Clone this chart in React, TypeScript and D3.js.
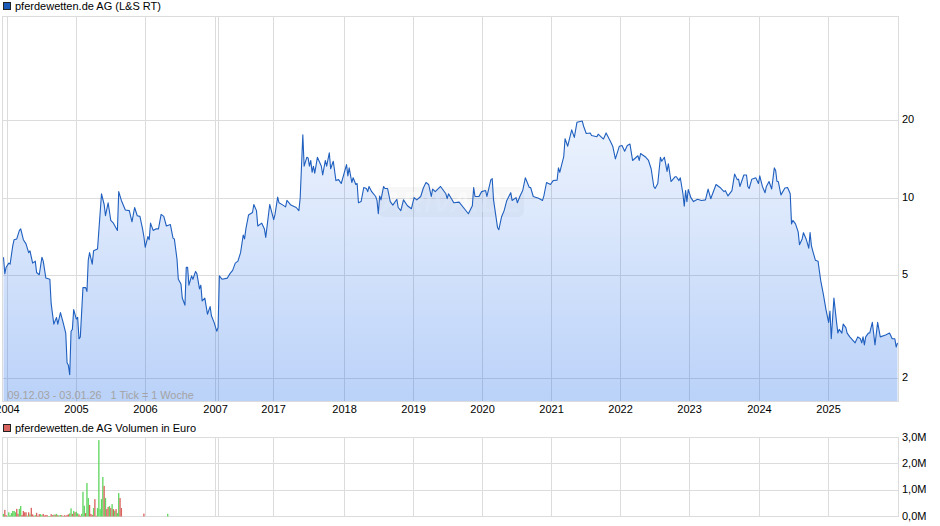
/**
 * pferdewetten.de AG weekly price chart (log scale) with a volume panel below.
 * Ticks are weeks since the first quote, so the time axis is not linear in years.
 */
import { useEffect, useRef } from 'react';
import * as d3 from 'd3';

const WIDTH = 940;
const HEIGHT = 526;

const title = 'pferdewetten.de AG (L&S RT)';
const volumeTitle = 'pferdewetten.de AG Volumen in Euro';
const rangeNote = '09.12.03 - 03.01.26   1 Tick = 1 Woche';
const watermark = 'ARIVA.DE';

const lastWeek = 675;

// year label, week of its gridline
const yearLabels = ['2004', '2005', '2006', '2007', '2017', '2018', '2019', '2020', '2021', '2022', '2023', '2024', '2025'];
const yearWeeks = [2.64, 54.7, 106.8, 159.7, 203.5, 257.1, 309.2, 361.3, 413.4, 465.5, 517.6, 570.4, 622.6];
const extraGridWeeks = [162];

const priceTicks = [2, 5, 10, 20];
const volumeTicks = [0, 1, 2, 3];

// [week, price]
const prices2004to2007: [number, number][] = [
  [0, 5.9], [1, 5.1], [2, 5.4], [4, 5.6], [5, 5.55], [7, 6.55], [8, 6.9], [10, 6.95], [12, 7.5], [13, 7.6],
  [15, 6.9], [17, 6.65], [19, 6.15], [20, 6.25], [22, 5.6], [24, 5.7], [25, 5.15], [27, 5.05], [29, 5.9], [30, 5.7],
  [32, 4.9], [35, 4.85], [36, 3.9], [38, 3.25], [40, 3.45], [41, 3.25], [43, 3.6], [45, 3.3], [47, 3.0], [48, 2.3],
  [49, 2.25], [50, 2.07], [51, 3.05], [52, 3.1], [53, 3.7], [55, 3.4], [56, 3.45], [57, 2.85], [58, 2.9], [60, 4.5],
  [62, 4.5], [63, 4.35], [64, 5.75], [65, 6.15], [67, 5.55], [68, 6.25], [71, 6.35], [74, 10.4], [76, 9.45], [77, 8.55],
  [79, 9.6], [81, 8.2], [83, 8.0], [86, 7.5], [87, 10.6], [89, 9.8], [92, 9.0], [95, 8.95], [97, 8.1], [99, 9.2],
  [101, 8.55], [103, 8.5], [105, 7.6], [106, 7.1], [107, 6.45], [109, 7.1], [110, 6.9], [111, 8.0], [113, 7.5], [115, 7.6],
  [117, 7.6], [119, 8.65], [121, 8.5], [123, 7.8], [126, 7.9], [128, 7.0], [129, 6.95], [131, 5.8], [132, 4.85], [134, 4.65],
  [135, 4.1], [137, 3.85], [138, 5.4], [139, 5.4], [140, 4.6], [142, 5.0], [143, 4.85], [145, 5.2], [146, 5.1], [148, 4.45],
  [149, 4.6], [150, 4.0], [152, 4.1], [154, 3.55], [156, 3.8], [157, 3.5], [159, 3.3], [161, 3.05], [162, 3.15],
];

const prices2017to2020: [number, number][] = [
  [163, 5.0], [165, 4.85], [169, 4.9], [171, 5.1], [173, 5.25], [175, 5.6], [177, 5.7], [179, 6.15], [181, 7.2], [182, 6.95],
  [183, 7.6], [185, 8.6], [188, 8.8], [189, 9.45], [191, 8.95], [192, 7.8], [195, 8.0], [197, 7.6], [198, 7.05], [201, 9.45],
  [204, 8.25], [205, 8.65], [207, 10.1], [208, 9.6], [211, 9.4], [213, 9.25], [214, 9.8], [217, 9.4], [221, 9.2], [223, 8.95],
  [224, 10], [226, 17.6], [227, 13.3], [229, 14.4], [230, 14.3], [231, 13.3], [232, 14], [233, 12.6], [234, 13.3], [235, 12.5],
  [237, 14.4], [240, 13.3], [241, 12.3], [243, 14], [244, 13.3], [246, 15], [247, 13], [249, 13.9], [251, 11.7], [253, 11.8],
  [255, 11.4], [259, 13.5], [260, 12.2], [261, 13.1], [263, 11.5], [264, 12], [266, 11.3], [267, 11.4], [268, 9.6], [270, 9.7],
  [272, 11], [274, 10.9], [275, 10.6], [276, 11.1], [278, 10.6], [281, 10.15], [282, 9.8], [283, 8.7], [284, 10.2], [285, 9.85],
  [287, 11.1], [288, 10.9], [290, 10.9], [292, 9.7], [294, 9.4], [297, 9.9], [298, 9.2], [300, 8.95], [302, 9.85], [305, 9.35],
  [308, 9.1], [310, 10.05], [312, 9.85], [315, 10.15], [317, 10.95], [319, 11.5], [321, 11.3], [323, 10.15], [324, 10.85], [326, 10.6],
  [330, 11.1], [334, 10.4], [335, 9.95], [336, 10.4], [340, 9.6], [344, 9.65], [348, 9.1], [351, 8.7], [354, 9.35], [355, 11],
  [356, 10.15], [359, 10.15], [361, 10.6], [364, 10.7], [365, 10.15], [368, 11.8], [369, 11.9], [370, 9.85], [373, 7.7], [374, 7.55],
];

const prices2020to2023: [number, number][] = [
  [376, 8.45], [378, 8.95], [380, 9.8], [383, 10.5], [384, 9.8], [387, 10.05], [388, 9.6], [390, 10.2], [392, 10.7], [394, 12],
  [397, 11], [398, 11], [400, 10.15], [404, 10], [407, 9.8], [408, 10.2], [410, 11.5], [413, 11.3], [415, 11.7], [418, 11.75],
  [419, 13.1], [420, 12.6], [423, 14.5], [424, 17], [426, 15.9], [429, 18.4], [431, 17.2], [433, 19.7], [437, 19.9], [438, 19],
  [440, 17.8], [443, 17.9], [444, 17.5], [448, 17.3], [449, 17.7], [453, 16.95], [455, 17.9], [458, 16.7], [460, 15.9], [462, 14.2],
  [465, 15.9], [467, 16], [469, 15.2], [471, 16], [473, 16.2], [475, 14], [479, 14.6], [480, 14], [481, 14.9], [485, 14.4],
  [487, 14], [489, 13], [491, 11.1], [492, 10.9], [494, 11.4], [496, 14.4], [497, 13.9], [499, 14.4], [501, 12.7], [502, 13.6],
  [504, 11.6], [507, 12.1], [508, 12.1], [510, 11.7], [511, 12], [513, 10.4], [514, 9.3], [515, 10.7], [516, 9.7], [517, 10.8],
  [519, 10.05], [521, 9.7], [524, 9.9], [527, 9.8], [530, 9.85], [532, 10.85], [534, 9.95], [538, 11.3], [541, 11], [544, 10.6],
];

const prices2023to2026: [number, number][] = [
  [545, 10.7], [547, 10.2], [550, 10.7], [552, 12.4], [554, 11.8], [555, 11.85], [556, 11.1], [559, 12.3], [561, 12.3], [562, 11.1],
  [563, 10.9], [565, 11.85], [568, 12], [570, 11.4], [571, 12.2], [573, 11.1], [575, 10.5], [576, 11.1], [578, 11.6], [580, 10.85],
  [582, 13.1], [583, 12.8], [584, 11.6], [585, 11.6], [587, 10.3], [590, 10.95], [592, 11], [594, 10.4], [595, 7.95], [596, 8.2],
  [598, 7.95], [600, 7.4], [601, 6.6], [603, 6.95], [604, 7.35], [606, 6.95], [608, 6.4], [609, 7.35], [610, 6.55], [611, 6.25],
  [613, 5.75], [615, 5.7], [617, 4.8], [619, 4.25], [621, 3.7], [623, 3.3], [624, 3.65], [625, 2.85], [627, 4.1], [629, 3.3],
  [630, 3.0], [631, 3.1], [633, 3.0], [634, 3.25], [636, 3.15], [637, 3.0], [639, 2.9], [643, 2.75], [645, 2.9], [647, 2.85],
  [648, 2.75], [649, 2.9], [650, 2.7], [651, 2.9], [653, 3.0], [654, 3.0], [656, 3.3], [658, 2.7], [660, 3.3], [662, 2.9],
  [666, 2.95], [669, 3.0], [671, 2.85], [673, 2.85], [674, 2.65], [675, 2.75],
];

// weekly volume in million euro from week 0, negative = down week (red)
const volumes = [
  0.1, -0.25, -0.05, 0.02, 0.16, 0.05, 0.13, 0.21, 0.21, 0.16,
  -0.29, -0.1, 0.29, 0.4, -0.06, -0.21, -0.16, -0.16, 0.03, -0.16,
  0.08, -0.33, -0.08, -0.03, 0.05, -0.14, -0.03, -0.09, 0.09, 0.05,
  -0.1, -0.04, -0.06, -0.05, 0.02, 0.02, -0.09, -0.05, 0.07, -0.07,
  0.1, -0.05, 0.04, 0.06, -0.05, 0.02, -0.05, -0.03, -0.06, -0.08,
  0.12, 0.31, -0.1, 0.21, -0.16, 0.18, 0.12, -0.08, -0.03, 0.1,
  0.94, 0.41, -0.13, 1.27, 0.7, -0.44, -0.1, -0.06, 0.32, -0.66,
  -0.03, 0.32, 2.9, 0.28, 0.66, 1.5, -1.16, 0.7, -0.28, -0.36,
  0.4, -0.32, 0.47, -0.28, 0.22, -0.28, 0.13, 0.89, -0.7, -0.32,
];
const lateVolumeWeeks = [106, 124];
const lateVolumes = [-0.11, 0.1];

export default function App() {
  const svgRef = useRef<SVGSVGElement>(null);

  useEffect(() => {
    if (!svgRef.current) return;
    const svg = d3.select(svgRef.current);
    svg.selectAll('*').remove();

    const left = 2.5;
    const right = 898.5;
    const gridColor = '#dcdcdc';
    const font = '"Liberation Sans", Arial, sans-serif';

    const series = [...prices2004to2007, ...prices2017to2020, ...prices2020to2023, ...prices2023to2026];

    // Scales
    const x = d3.scaleLinear().domain([0, lastWeek]).range([3.5, 897.5]);
    const y = d3.scaleLog().domain([2, 20]).range([378.5, 120.5]);
    const yVol = d3.scaleLinear().domain([0, 3]).range([516.5, 437.5]);
    const crisp = (v: number) => Math.round(v) + 0.5;

    // Gradient under the price line
    const gradient = svg
      .append('defs')
      .append('linearGradient')
      .attr('id', 'priceFill')
      .attr('gradientUnits', 'userSpaceOnUse')
      .attr('x1', 0)
      .attr('x2', 0)
      .attr('y1', 120)
      .attr('y2', 401);
    gradient.append('stop').attr('offset', 0).attr('stop-color', '#1a68ea').attr('stop-opacity', 0.08);
    gradient.append('stop').attr('offset', 1).attr('stop-color', '#1a68ea').attr('stop-opacity', 0.3);

    // Frames and grid for both panels
    const panels: [number, number, number[]][] = [
      [16.5, 401.5, priceTicks.map((t) => crisp(y(t) - 0.5))],
      [437.5, 516.5, volumeTicks.map((t) => Math.floor(yVol(t)) + 0.5)],
    ];
    panels.forEach(([top, bottom, rows]) => {
      const grid = svg.append('g').attr('stroke', gridColor).attr('fill', 'none');
      grid
        .append('rect')
        .attr('x', left)
        .attr('y', top)
        .attr('width', right - left)
        .attr('height', bottom - top);
      grid
        .selectAll('line.v')
        .data([...yearWeeks, ...extraGridWeeks])
        .join('line')
        .attr('class', 'v')
        .attr('x1', (d) => crisp(x(d)))
        .attr('x2', (d) => crisp(x(d)))
        .attr('y1', top)
        .attr('y2', bottom);
      grid
        .selectAll('line.h')
        .data(rows)
        .join('line')
        .attr('class', 'h')
        .attr('x1', left)
        .attr('x2', right)
        .attr('y1', (d) => d)
        .attr('y2', (d) => d);
    });

    // Watermark
    svg
      .append('rect')
      .attr('x', 378)
      .attr('y', 187)
      .attr('width', 146)
      .attr('height', 30)
      .attr('rx', 6)
      .attr('fill', '#777')
      .attr('fill-opacity', 0.06);
    svg
      .append('text')
      .attr('x', 451)
      .attr('y', 212)
      .attr('text-anchor', 'middle')
      .attr('font-family', font)
      .attr('font-size', 30)
      .attr('font-style', 'italic')
      .attr('font-weight', 'bold')
      .attr('fill', '#fff')
      .attr('fill-opacity', 0.4)
      .text(watermark);

    // Price area and line
    const area = d3
      .area<[number, number]>()
      .x((d) => x(d[0]))
      .y0(401)
      .y1((d) => y(d[1]));
    svg.append('path').datum(series).attr('fill', 'url(#priceFill)').attr('d', area);

    const line = d3
      .line<[number, number]>()
      .x((d) => x(d[0]))
      .y((d) => y(d[1]));
    svg
      .append('path')
      .datum(series)
      .attr('fill', 'none')
      .attr('stroke', '#1f5fbf')
      .attr('stroke-width', 1.1)
      .attr('stroke-linejoin', 'round')
      .attr('d', line);

    // Volume bars
    const bars: [number, number][] = [
      ...volumes.map((v, i): [number, number] => [i, v]),
      ...lateVolumeWeeks.map((w, i): [number, number] => [w, lateVolumes[i]]),
    ];
    svg
      .append('g')
      .selectAll('rect')
      .data(bars)
      .join('rect')
      .attr('x', (d) => x(d[0]) - 0.66)
      .attr('width', 1.32)
      .attr('y', (d) => yVol(Math.abs(d[1])))
      .attr('height', (d) => yVol(0) - yVol(Math.abs(d[1])))
      .attr('fill', (d) => (d[1] >= 0 ? '#5fd65f' : '#d9635f'));

    // Axes
    const styleAxis = (g: d3.Selection<SVGGElement, unknown, null, undefined>) => {
      g.select('.domain').remove();
      g.selectAll('.tick line').remove();
      g.selectAll('text').attr('fill', '#000').attr('font-family', font).attr('font-size', 11);
    };

    svg
      .append('g')
      .attr('transform', 'translate(0,401)')
      .call(
        d3
          .axisBottom(x)
          .tickValues(yearWeeks)
          .tickFormat((_, i) => yearLabels[i])
          .tickSize(0)
          .tickPadding(4)
      )
      .call(styleAxis);

    svg
      .append('g')
      .attr('transform', 'translate(898,-1.5)')
      .call(d3.axisRight(y).tickValues(priceTicks).tickFormat(d3.format('d')).tickSize(0).tickPadding(4))
      .call(styleAxis);

    svg
      .append('g')
      .attr('transform', 'translate(898,-1)')
      .call(
        d3
          .axisRight(yVol)
          .tickValues(volumeTicks)
          .tickFormat((d) => `${(d as number).toFixed(1).replace('.', ',')}M`)
          .tickSize(0)
          .tickPadding(4)
      )
      .call(styleAxis);

    // Legends
    const legends: [string, string, number][] = [
      [title, '#1a5ab8', 10],
      [volumeTitle, '#d9635f', 432],
    ];
    legends.forEach(([label, color, baseline]) => {
      svg
        .append('rect')
        .attr('x', 3.5)
        .attr('y', baseline - 7.5)
        .attr('width', 7)
        .attr('height', 7)
        .attr('fill', color)
        .attr('stroke', '#222');
      svg
        .append('text')
        .attr('x', 15)
        .attr('y', baseline)
        .attr('font-family', font)
        .attr('font-size', 11)
        .attr('fill', '#000')
        .text(label);
    });

    // Period note inside the price panel
    svg
      .append('text')
      .attr('x', 7.5)
      .attr('y', 399)
      .attr('font-family', font)
      .attr('font-size', 10.85)
      .attr('fill', '#a3a3a3')
      .style('white-space', 'pre')
      .text(rangeNote);
  }, []);

  return (
    <svg
      ref={svgRef}
      width={WIDTH}
      height={HEIGHT}
      style={{ position: 'absolute', left: 0, top: 0, background: '#fff' }}
    />
  );
}
